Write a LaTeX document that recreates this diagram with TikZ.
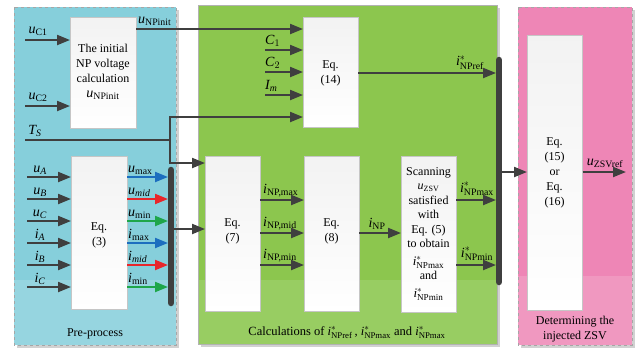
\documentclass[tikz,border=0pt]{standalone}
\usepackage{amsmath}
\usepackage{fontspec}
\setmainfont{Liberation Serif}
\usetikzlibrary{arrows.meta,calc}
\definecolor{cyanp}{HTML}{86CFDB}
\definecolor{cyanl}{HTML}{96D5E0}
\definecolor{greenp}{HTML}{8CC64E}
\definecolor{greenl}{HTML}{98CD62}
\definecolor{pinkp}{HTML}{EE86B6}
\definecolor{pinkl}{HTML}{F098C0}
\definecolor{arrg}{HTML}{3F3F3F}
\definecolor{ublue}{HTML}{1C6EBF}
\definecolor{ured}{HTML}{E8262A}
\definecolor{ugreen}{HTML}{1FA64A}
\begin{document}
\begin{tikzpicture}[x=1pt,y=-1pt]
\tikzset{
  arr/.style={draw=arrg, line width=2.1pt, -{Triangle[length=13pt,width=10pt]}},
  plainln/.style={draw=arrg, line width=2.1pt},
  carr/.style={arr, draw=#1},
  bus/.style={draw=arrg, line width=6.5pt, line cap=round},
  wbox/.style={draw=gray!45, line width=0.5pt, top color=gray!10, bottom color=white, minimum width=55pt, anchor=north west, inner sep=0pt},
  lbl/.style={inner sep=1pt, font=\fontsize{14}{16}\selectfont},
  txt/.style={align=center, font=\fontsize{12}{15}\selectfont, inner sep=0pt},
}
\useasboundingbox (0,0) rectangle (641,349);
% panels
\fill[black!18] (17,10) rectangle (179,348);
\fill[cyanp] (14,7) rectangle (176,280);
\fill[cyanl] (14,280) rectangle (176,345);
\draw[gray!70, dashed, line width=0.6pt] (14,7) rectangle (176,345);

\fill[black!18] (201,8) rectangle (500,347);
\fill[greenp] (198,5) rectangle (497,280);
\fill[greenl] (198,280) rectangle (497,344);
\draw[gray!60, line width=0.6pt] (198,5) rectangle (497,344);

\fill[black!18] (521,10) rectangle (635,348);
\fill[pinkp] (518,7) rectangle (632,276);
\fill[pinkl] (518,276) rectangle (632,345);
\draw[gray!70, dashed, line width=0.6pt] (518,7) rectangle (632,345);

% boxes
\node[wbox, minimum width=66pt, minimum height=111pt] (init) at (70,17) {};
\node[wbox, minimum width=56pt, minimum height=153pt] (eq3) at (71,156) {};
\node[wbox, minimum height=110pt] (eq14) at (303,17) {};
\node[wbox, minimum height=155pt] (eq7) at (205,156) {};
\node[wbox, minimum height=155pt] (eq8) at (304,156) {};
\node[wbox, minimum height=156pt] (scan) at (401,156) {};
\node[wbox, minimum height=275pt] (eq15) at (527,35) {};

% box texts
\node[txt] (initt) at (103,72) {The initial\\NP voltage\\calculation\\{\fontsize{14}{15}\selectfont$\textit{u}_{\text{NPinit}}$}};
\node[txt] (eq3t) at (99,235) {Eq.\\(3)};
\node[txt] (eq14t) at (330.5,73) {Eq.\\(14)};
\node[txt] (eq7t) at (232.5,231) {Eq.\\(7)};
\node[txt] (eq8t) at (331.5,231) {Eq.\\(8)};
\node[txt] (eq15t) at (554.5,173) {Eq.\\(15)\\or\\Eq.\\(16)};
\node[txt, font=\fontsize{12}{14.5}\selectfont] (scant) at (428.5,234) {Scanning\\$\textit{u}_{\text{ZSV}}$\\satisfied\\with\\Eq. (5)\\to obtain\\[3pt]{\fontsize{13}{15}\selectfont$\textit{i}^{*}_{\text{NPmax}}$}\\and\\[3pt]{\fontsize{13}{15}\selectfont$\textit{i}^{*}_{\text{NPmin}}$}};

% panel labels
\node[txt] (pre) at (95,334) {Pre-process};
\node[txt, font=\fontsize{12.5}{15}\selectfont] (calc) at (347,332) {Calculations of $\textit{i}^{*}_{\text{NPref}}$\,, $\textit{i}^{*}_{\text{NPmax}}$ and $\textit{i}^{*}_{\text{NPmax}}$};
\node[txt] (det) at (575,329) {Determining the\\injected ZSV};

% buses
\coordinate (b1t) at (171,170);
\coordinate (b1b) at (171,303);
\coordinate (b2t) at (499,60);
\coordinate (b2b) at (499,282);
\draw[bus] (b1t) -- (b1b);
\draw[bus] (b2t) -- (b2b);

% uC1, uC2
\coordinate (uc1) at (25,40);
\coordinate (uc2) at (25,106);
\draw[arr] (uc1) -- (uc1 -| init.west);
\draw[arr] (uc2) -- (uc2 -| init.west);
\node[lbl, anchor=south] (luc1) at (38,37) {$\textit{u}_{\text{C1}}$};
\node[lbl, anchor=south] (luc2) at (38,103) {$\textit{u}_{\text{C2}}$};

% uNPinit to eq14
\coordinate (np) at (136,29);
\draw[arr] (np) -- (np -| eq14.west);
\node[lbl, anchor=south west] (lnp) at (137,27) {$\textit{u}_{\text{NPinit}}$};

% Ts
\coordinate (ts) at (25,140);
\coordinate (tsj) at (170,140);
\coordinate (tsu) at (170,117);
\coordinate (tsd) at (170,163);
\draw[plainln] (ts) -- (tsj);
\draw[arr] (tsj) -- (tsu) -- (tsu -| eq14.west);
\draw[arr] (tsj) -- (tsd) -- (tsd -| eq7.west);
\node[lbl, anchor=south] (lts) at (35,138) {$\textit{T}_{\textit{S}}$};

% C1 C2 Im
\coordinate (c1) at (265,50);
\coordinate (c2) at (265,72);
\coordinate (im) at (265,95);
\draw[arr] (c1) -- (c1 -| eq14.west);
\draw[arr] (c2) -- (c2 -| eq14.west);
\draw[arr] (im) -- (im -| eq14.west);
\node[lbl, anchor=south west] (lc1) at (264,48) {$\textit{C}_{1}$};
\node[lbl, anchor=south west] (lc2) at (264,70) {$\textit{C}_{2}$};
\node[lbl, anchor=south west] (lim) at (264,93) {$\textit{I}_{\textit{m}}$};

% eq14 output
\coordinate (ref) at (358,73);
\draw[arr, shorten >=3pt] (ref) -- (ref -| b2t);
\node[lbl, anchor=south] (lref) at (470,71) {$\textit{i}^{*}_{\text{NPref}}$};

% eq3 inputs
\foreach \y/\n/\t in {177/a/{\textit{u}_{\textit{A}}},199/b/{\textit{u}_{\textit{B}}},221/c/{\textit{u}_{\textit{C}}},243/d/{\textit{i}_{\textit{A}}},265/e/{\textit{i}_{\textit{B}}},287/f/{\textit{i}_{\textit{C}}}}{
  \coordinate (in\n) at (27,\y);
  \draw[arr] (in\n) -- (in\n -| eq3.west);
  \node[lbl, anchor=south] (lin\n) at (40,\y-1) {$\t$};
}
% eq3 outputs
\foreach \y/\n/\c/\t in {177/a/ublue/{\textit{u}_{\text{max}}},199/b/ured/{\textit{u}_{\textit{mid}}},221/c/ugreen/{\textit{u}_{\text{min}}},243/d/ublue/{\textit{i}_{\text{max}}},265/e/ured/{\textit{i}_{\textit{mid}}},287/f/ugreen/{\textit{i}_{\text{min}}}}{
  \coordinate (out\n) at (127,\y);
  \draw[carr=\c, shorten >=3pt] (out\n) -- (out\n -| b1t);
  \node[lbl, anchor=south west] (lout\n) at (127,\y-1) {$\t$};
}

% bus1 to eq7
\coordinate (b1o) at (171,229);
\draw[arr] (b1o) -- (b1o -| eq7.west);

% eq7 to eq8
\foreach \y/\n/\t in {200/a/max,233/b/mid,265/c/min}{
  \coordinate (s\n) at (260,\y);
  \draw[arr] (s\n) -- (s\n -| eq8.west);
  \node[lbl, anchor=south west] (ls\n) at (262,\y-2) {$\textit{i}_{\text{NP,\t}}$};
}

% eq8 to scan
\coordinate (inp) at (359,233);
\draw[arr] (inp) -- (inp -| scan.west);
\node[lbl, anchor=south] (linp) at (377,231) {$\textit{i}_{\text{NP}}$};

% scan to bus2
\coordinate (smax) at (456,200);
\coordinate (smin) at (456,265);
\draw[arr, shorten >=3pt] (smax) -- (smax -| b2t);
\draw[arr, shorten >=3pt] (smin) -- (smin -| b2t);
\node[lbl, anchor=south] (lsmax) at (477,197) {$\textit{i}^{*}_{\text{NPmax}}$};
\node[lbl, anchor=south] (lsmin) at (477,262) {$\textit{i}^{*}_{\text{NPmin}}$};

% bus2 to eq15
\coordinate (b2o) at (499,172);
\draw[arr] (b2o) -- (b2o -| eq15.west);

% output
\coordinate (zo) at (626,172);
\draw[arr] (eq15.east |- zo) -- (zo);
\node[lbl, anchor=south] (lzo) at (605,169) {$\textit{u}_{\text{ZSVref}}$};
\end{tikzpicture}
\end{document}
